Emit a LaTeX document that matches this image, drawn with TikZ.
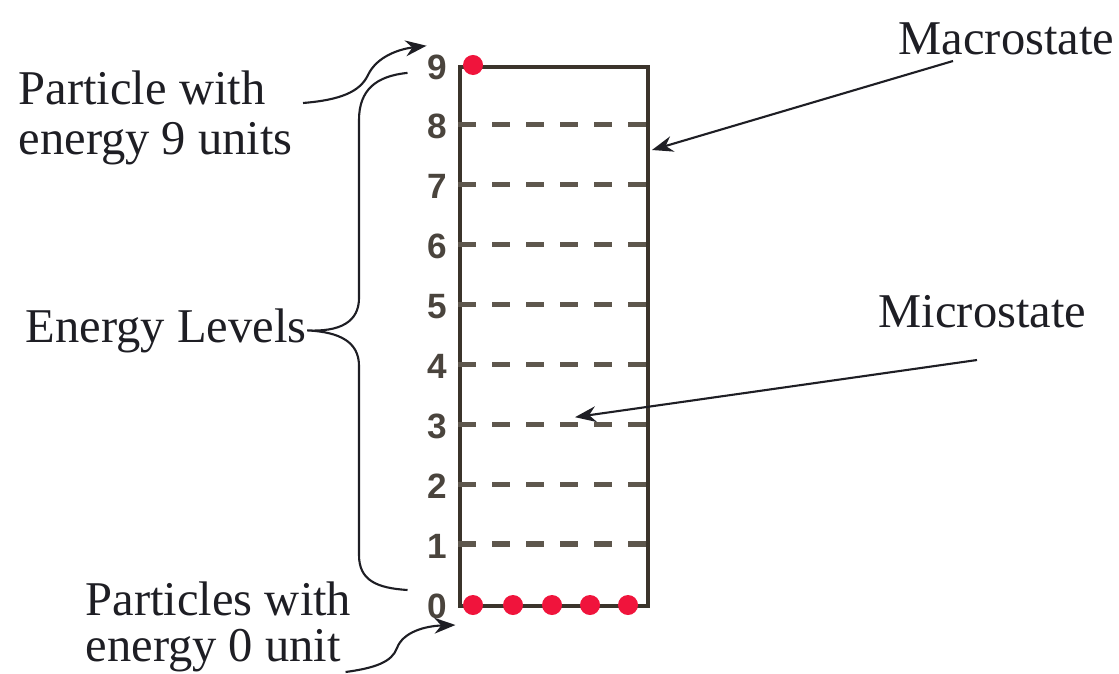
\documentclass[tikz,border=0pt]{standalone}
\usepackage{fontspec}
\setmainfont{Liberation Serif}
\newfontfamily\numfont{Liberation Sans}
\usetikzlibrary{arrows.meta,calc}

\definecolor{boxcol}{HTML}{3B342B}
\definecolor{dashcol}{HTML}{5E574D}
\definecolor{numcol}{HTML}{4A443D}
\definecolor{dotred}{HTML}{F0143C}
\definecolor{ink}{HTML}{1E1E24}

\begin{document}
\begin{tikzpicture}[x=0.01cm, y=-0.01cm,
        caption/.style={inner sep=0pt, anchor=base west, text=ink, font=\fontsize{13.8pt}{16pt}\selectfont},
        levelnum/.style={inner sep=0pt, text=numcol, font=\numfont\bfseries\fontsize{10pt}{12pt}\selectfont},
        levelline/.style={dashcol, line width=1.5pt, dash pattern=on 0.18cm off 0.16cm},
        pointer/.style={ink, line width=0.6pt, -{Stealth[length=6pt, width=4.5pt]}},
        thinline/.style={ink, line width=0.6pt}]
        \useasboundingbox (0,0) rectangle (1119,673);

        % The box with its energy levels
        \node[draw=boxcol, line width=1.1pt, minimum width=1.88cm, minimum height=5.39cm,
              inner sep=0pt, anchor=north west] (box) at (458,65) {};
        \foreach \i in {1,...,8}
            \draw[levelline] (646,{604-59.9*\i}) -- (458,{604-59.9*\i});
        \foreach \i in {0,...,9}
            \node[levelnum] (l\i) at (437,{606-59.9*\i}) {\i};

        % Particles
        \fill[dotred] (473,65) circle[radius=0.1cm];
        \foreach \x in {473,513,552,590,628}
            \fill[dotred] (\x,605) circle[radius=0.1cm];

        % Labels
        \node[caption] (p9a) at (18,105) {Particle with};
        \node[caption] (p9b) at (18,155) {energy 9 units};
        \node[caption] (levels) at (25,342) {Energy Levels};
        \node[caption] (p0a) at (85,615) {Particles with};
        \node[caption] (p0b) at (85,661) {energy 0 unit};
        \node[caption] (macro) at (898,55) {Macrostate};
        \node[caption] (micro) at (878,327) {Microstate};

        % Brace over the levels
        \draw[thinline] ($(l9.west)+(-19,6)$) .. controls (376,76) and (359,90) .. (359,120)
            -- (359,298) .. controls (359,322) and (340,332) .. (levels.east)
            .. controls (340,332) and (359,342) .. (359,366)
            -- (359,555) .. controls (359,580) and (376,588) .. ($(l0.west)+(-19,-16)$);

        % Arrows
        \draw[pointer] ($(p9a.base east)+(37,-2)$) .. controls (340,100) and (360,92) .. (368,75)
            .. controls (377,56) and (400,49) .. ($(l9.north west)+(0,-8)$);
        \draw[pointer] ($(p0b.base east)+(4,11)$) .. controls (375,668) and (392,662) .. (397,648)
            .. controls (403,632) and (425,626) .. ($(l0.east)+(8,19)$);
        \draw[pointer] ($(macro.base west)+(55,6)$) -- ($(box.north east)+(2,85)$);
        \draw[pointer] ($(micro.base west)+(99,33)$) -- ($(box.south west)+(117,-191)$);
    \end{tikzpicture}
\end{document}
